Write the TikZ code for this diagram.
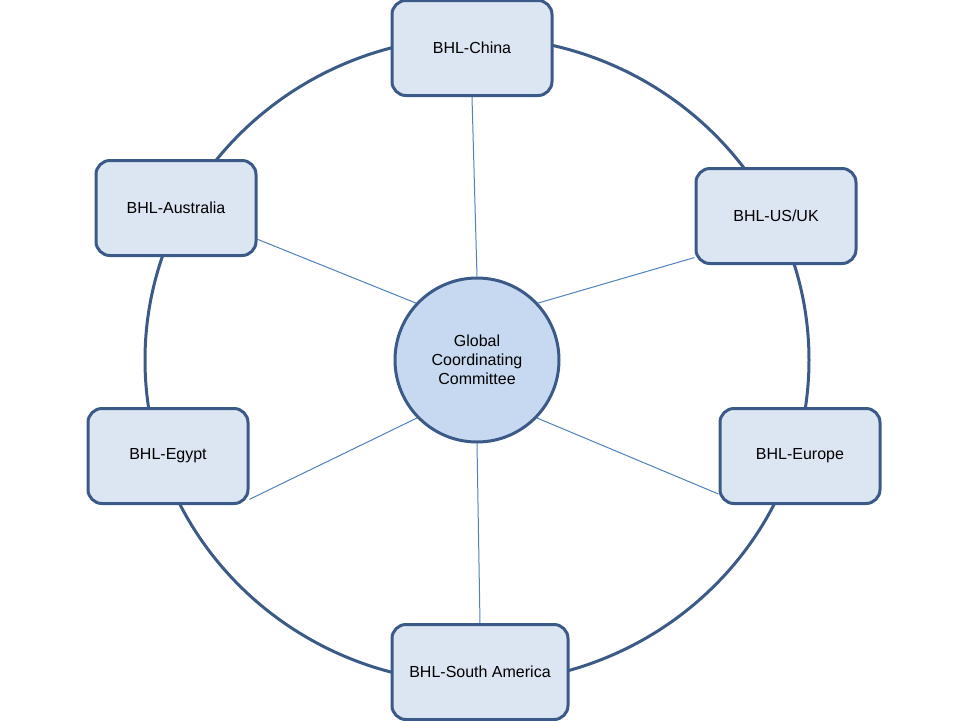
\documentclass[tikz,border=0pt]{standalone}
\usepackage{fontspec}
\setmainfont{Liberation Sans}
\usetikzlibrary{backgrounds}
\definecolor{boxfill}{HTML}{DCE6F2}
\definecolor{boxline}{HTML}{3C5A88}
\definecolor{hubfill}{HTML}{C6D9F1}
\definecolor{spokeline}{HTML}{4F81BD}

\begin{document}
\begin{tikzpicture}[x=0.5pt,y=-0.5pt,
  region/.style={draw=boxline, line width=1.5pt, fill=boxfill, rounded corners=7pt,
    minimum width=80pt, minimum height=47.5pt, inner sep=0pt,
    font=\fontsize{8}{9.5}\selectfont},
  hub/.style={circle, draw=boxline, line width=1.5pt, fill=hubfill, minimum size=82pt,
    inner sep=0pt, align=center, font=\fontsize{8}{9.5}\selectfont},
  spoke/.style={draw=spokeline, line width=0.5pt}]
\useasboundingbox (0,0) rectangle (960,720);

% committee in the middle
\node[hub] (gcc) at (477,360) {Global\\Coordinating\\Committee};

% the six regional nodes
\node[region] (china) at (472,48) {BHL-China};
\node[region] (usuk) at (776,216) {BHL-US/UK};
\node[region] (europe) at (800,456) {BHL-Europe};
\node[region, minimum width=88pt] (samerica) at (480,672) {BHL-South America};
\node[region] (egypt) at (168,456) {BHL-Egypt};
\node[region] (australia) at (176,208) {BHL-Australia};

\begin{scope}[on background layer]
\draw[boxline, line width=1.5pt] (gcc.center) ellipse [x radius=332, y radius=323];
% hub anchor / region / region anchor
\foreach \a/\r/\b in {90/china/south, 43/usuk/207, -44/europe/205,
    270/samerica/north, 224/egypt/-28, 137/australia/-21}
  \draw[spoke] (gcc.\a) -- (\r.\b);
\end{scope}
\end{tikzpicture}
\end{document}
